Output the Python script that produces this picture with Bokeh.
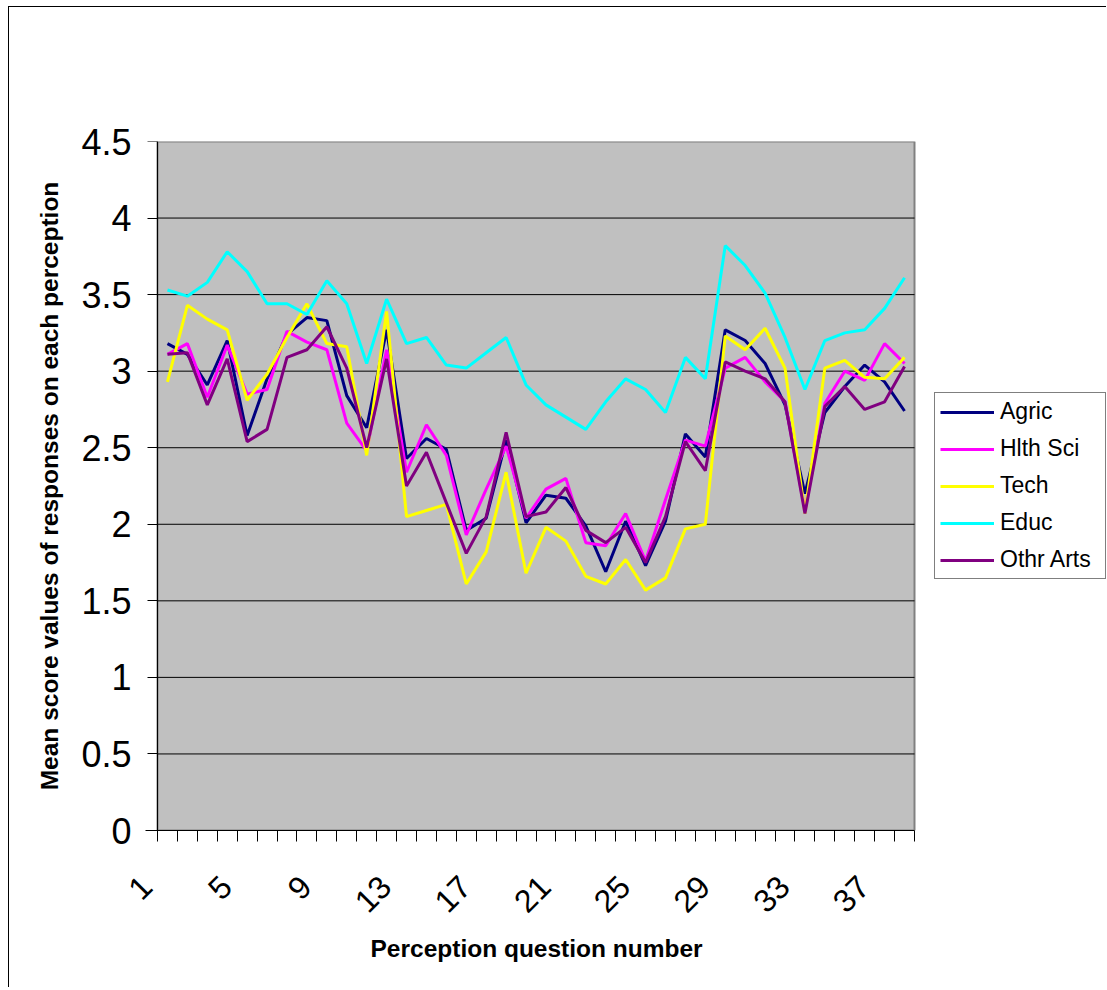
from math import pi
from bokeh.plotting import figure
from bokeh.models import (Range1d, FixedTicker, Legend, LegendItem, NumeralTickFormatter,
                          CustomJSTickFormatter, LinearAxis, Title)
from bokeh.embed import file_html
from bokeh.resources import INLINE

questions = list(range(1, 39))
agric = [3.18, 3.11, 2.91, 3.20, 2.58, 2.95, 3.24, 3.35, 3.33, 2.84,
         2.63, 3.27, 2.43, 2.56, 2.49, 1.96, 2.04, 2.55, 2.01, 2.19,
         2.17, 1.99, 1.69, 2.02, 1.73, 2.02, 2.59, 2.44, 3.27, 3.20,
         3.05, 2.78, 2.20, 2.73, 2.90, 3.04, 2.93, 2.74]
hlth_sci = [3.11, 3.18, 2.83, 3.17, 2.85, 2.88, 3.26, 3.19, 3.14, 2.66,
            2.48, 3.14, 2.34, 2.65, 2.45, 1.93, 2.23, 2.51, 2.04, 2.23,
            2.30, 1.88, 1.86, 2.07, 1.76, 2.16, 2.55, 2.51, 3.02, 3.09,
            2.93, 2.80, 2.09, 2.79, 3.00, 2.94, 3.18, 3.05]
tech = [2.93, 3.43, 3.34, 3.27, 2.81, 2.98, 3.22, 3.44, 3.18, 3.16,
        2.45, 3.39, 2.05, 2.09, 2.13, 1.61, 1.82, 2.34, 1.68, 1.98,
        1.89, 1.66, 1.61, 1.77, 1.57, 1.65, 1.97, 2.00, 3.23, 3.14,
        3.28, 3.02, 2.07, 3.02, 3.07, 2.96, 2.95, 3.09]
educ = [3.53, 3.49, 3.58, 3.78, 3.65, 3.44, 3.44, 3.37, 3.59, 3.44,
        3.05, 3.47, 3.18, 3.22, 3.04, 3.02, 3.12, 3.22, 2.91, 2.78,
        2.70, 2.62, 2.80, 2.95, 2.88, 2.73, 3.09, 2.95, 3.82, 3.69,
        3.51, 3.22, 2.88, 3.20, 3.25, 3.27, 3.41, 3.61]
othr_arts = [3.11, 3.12, 2.78, 3.08, 2.54, 2.62, 3.09, 3.14, 3.29, 3.02,
             2.50, 3.08, 2.25, 2.47, 2.14, 1.81, 2.05, 2.60, 2.05, 2.08,
             2.24, 1.96, 1.88, 1.98, 1.75, 2.05, 2.54, 2.35, 3.06, 3.00,
             2.95, 2.80, 2.07, 2.77, 2.90, 2.75, 2.80, 3.03]

series_names = ["Agric", "Hlth Sci", "Tech", "Educ", "Othr Arts"]
series_values = [agric, hlth_sci, tech, educ, othr_arts]
series_colors = ["#000080", "#FF00FF", "#FFFF00", "#00FFFF", "#800080"]

x_label_ticks = [1, 5, 9, 13, 17, 21, 25, 29, 33, 37]
y_ticks = [0, 0.5, 1, 1.5, 2, 2.5, 3, 3.5, 4, 4.5]

FONT = "Liberation Sans"
LABEL_SHIFT = 1.05     # rotated labels sit a little left of their category
PLOT_PX = 757          # width of the grey plot area in pixels
LEFT_EXT_PX = 24       # frame reaches a little left of the grey area (room for label "1")
RIGHT_EXT_PX = 192     # and to the right, to hold the legend

x_lo = 0.5
x_hi = len(questions) + 0.5
unit_px = PLOT_PX / (x_hi - x_lo)
x_frame_lo = x_lo - LEFT_EXT_PX / unit_px
x_frame_hi = x_hi + RIGHT_EXT_PX / unit_px
y_lo, y_hi = y_ticks[0], y_ticks[-1]

p = figure(frame_width=PLOT_PX + LEFT_EXT_PX + RIGHT_EXT_PX, frame_height=689,
           x_range=Range1d(x_frame_lo, x_frame_hi), y_range=Range1d(y_lo, y_hi),
           output_backend="svg", toolbar_location=None,
           min_border_left=148 - LEFT_EXT_PX, min_border_right=0,
           min_border_top=134, min_border_bottom=157,
           background_fill_color="white", border_fill_color="white")

p.styles = {"border-left": "1px solid black", "border-top": "1px solid black",
            "margin-left": "8px", "margin-top": "6px"}
p.outline_line_color = None
p.xgrid.visible = False
p.ygrid.visible = False

# grey plot area
p.quad(left=[x_lo], right=[x_hi], bottom=[y_lo], top=[y_hi],
       fill_color="#C0C0C0", line_color="#808080", line_width=2)
# horizontal gridlines
inner = y_ticks[1:-1]
p.segment(x0=[x_lo] * len(inner), x1=[x_hi] * len(inner), y0=inner, y1=inner,
          line_color="black", line_width=1)

items = []
for name, vals, col in zip(series_names, series_values, series_colors):
    r = p.line(questions, vals, line_color=col, line_width=3)
    items.append(LegendItem(label=name, renderers=[r]))

# x axis
xa = p.xaxis[0]
xa.bounds = (x_label_ticks[0] - LABEL_SHIFT - 0.05, x_hi)
xa.ticker = FixedTicker(ticks=[t - LABEL_SHIFT for t in x_label_ticks],
                        minor_ticks=[q - 0.5 for q in questions] + [x_hi])
xa.formatter = CustomJSTickFormatter(args=dict(shift=LABEL_SHIFT),
                                     code="return String(Math.round(tick + shift));")
xa.major_tick_line_color = None
xa.major_tick_out = 0
xa.major_tick_in = 0
xa.minor_tick_out = 11
xa.minor_tick_in = 0
xa.minor_tick_line_color = "black"
xa.axis_line_color = "black"
xa.axis_line_width = 1
xa.major_label_orientation = pi / 4
xa.major_label_text_font = FONT
xa.major_label_text_font_size = "32px"
xa.major_label_text_color = "black"
xa.major_label_standoff = 40

x_title = Title(text="Perception question number", align="left", offset=237,
                text_font=FONT, text_font_size="24.5px", text_font_style="bold",
                text_color="black", standoff=15)
p.add_layout(x_title, "below")

# y axis: labels and title (in the left panel, no line)
ya = p.yaxis[0]
ya.ticker = FixedTicker(ticks=y_ticks)
ya.formatter = NumeralTickFormatter(format="0.[0]")
ya.major_tick_out = 0
ya.major_tick_in = 0
ya.major_tick_line_color = None
ya.minor_tick_line_color = None
ya.axis_line_color = None
ya.major_label_text_font = FONT
ya.major_label_text_font_size = "36px"
ya.major_label_text_color = "black"
ya.major_label_standoff = 2
ya.axis_label = "Mean score values of responses on each perception"
ya.axis_label_text_font = FONT
ya.axis_label_text_font_size = "24.5px"
ya.axis_label_text_font_style = "bold"
ya.axis_label_text_color = "black"
ya.axis_label_standoff = 15

# y axis line and ticks, pinned to the left edge of the grey area
y_rule = LinearAxis(fixed_location=x_lo, ticker=FixedTicker(ticks=y_ticks),
                    formatter=CustomJSTickFormatter(code="return '';"),
                    major_tick_out=10, major_tick_in=0, major_tick_line_color="black",
                    minor_tick_line_color=None, axis_line_color="black",
                    major_label_standoff=0, major_label_text_font_size="1px")
p.add_layout(y_rule, "left")

legend = Legend(items=items, location=(LEFT_EXT_PX + 777, 251))
legend.border_line_color = "black"
legend.border_line_width = 1
legend.background_fill_color = "white"
legend.background_fill_alpha = 1
legend.label_text_font = FONT
legend.label_text_font_size = "23px"
legend.label_text_color = "black"
legend.glyph_width = 54
legend.glyph_height = 20
legend.label_height = 20
legend.label_width = 100
legend.label_standoff = 6
legend.padding = 5
legend.spacing = 10
legend.margin = 0
p.add_layout(legend)

open("out.html", "w").write(file_html(p, INLINE))
